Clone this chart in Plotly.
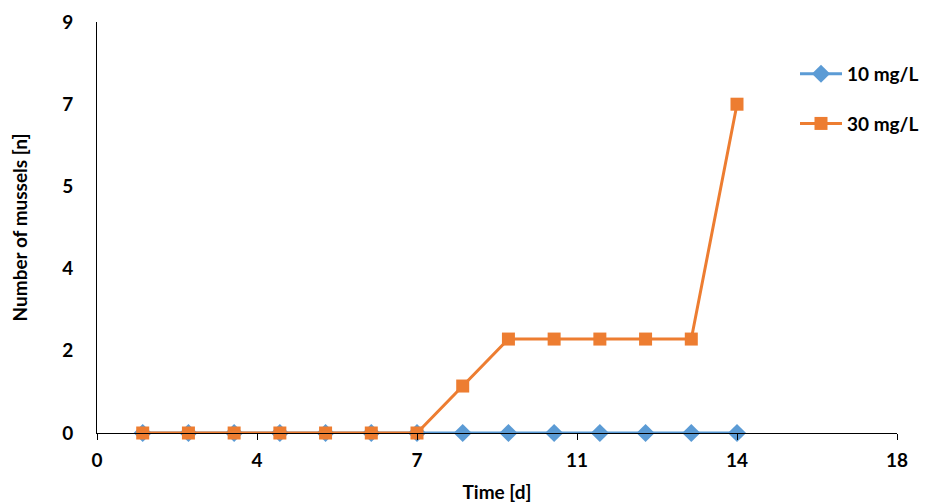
import plotly.graph_objects as go

days = [1, 2, 3, 4, 5, 6, 7, 8, 9, 10, 11, 12, 13, 14]
mussels_10 = [0, 0, 0, 0, 0, 0, 0, 0, 0, 0, 0, 0, 0, 0]
mussels_30 = [0, 0, 0, 0, 0, 0, 0, 1, 2, 2, 2, 2, 2, 7]

x_tick_vals = [0, 3.5, 7, 10.5, 14, 17.5]
x_tick_text = ["0", "4", "7", "11", "14", "18"]
y_tick_vals = [0, 1.75, 3.5, 5.25, 7, 8.75]
y_tick_text = ["0", "2", "4", "5", "7", "9"]

FONT = "Lato"

fig = go.Figure()
fig.add_trace(go.Scatter(
    x=days, y=mussels_10, name="10 mg/L", mode="lines+markers",
    line=dict(color="#5B9BD5", width=3),
    marker=dict(symbol="diamond", size=14, color="#5B9BD5"),
    legendgroup="a", cliponaxis=False,
))
fig.add_trace(go.Scatter(
    x=days, y=mussels_30, name="30 mg/L", mode="lines+markers",
    line=dict(color="#ED7D31", width=3),
    marker=dict(symbol="square", size=13, color="#ED7D31"),
    legendgroup="b", cliponaxis=False,
))

fig.update_layout(
    width=920, height=495,
    margin=dict(l=89, r=31, t=14, b=70, autoexpand=False),
    paper_bgcolor="white", plot_bgcolor="white",
    font=dict(family=FONT, size=19, color="black", weight="bold"),
    showlegend=True,
    legend=dict(x=0.8725, y=0.92, xanchor="left", yanchor="top", itemwidth=42,
                bgcolor="rgba(0,0,0,0)", tracegroupgap=22,
                font=dict(family=FONT, size=19, color="black", weight="bold")),
    xaxis=dict(
        range=[0, 17.5], tickvals=x_tick_vals, ticktext=x_tick_text,
        showgrid=False, zeroline=False, showline=True, linecolor="black", linewidth=1,
        ticks="outside", ticklen=6, tickcolor="black", automargin=False,
        ticklabelstandoff=4,
        title=dict(text="Time [d]", standoff=16, font=dict(family=FONT, size=19, weight="bold")),
        tickfont=dict(family=FONT, size=19, weight="bold"),
    ),
    yaxis=dict(
        range=[0, 8.75], tickvals=y_tick_vals, ticktext=y_tick_text,
        showgrid=False, zeroline=False, showline=True, linecolor="black", linewidth=1,
        ticks="", ticklabelstandoff=19, automargin=False,
        title=dict(text="Number of mussels [n]", standoff=32, font=dict(family=FONT, size=19, weight="bold")),
        tickfont=dict(family=FONT, size=19, weight="bold"),
    ),
)

fig.write_html("out.html")
